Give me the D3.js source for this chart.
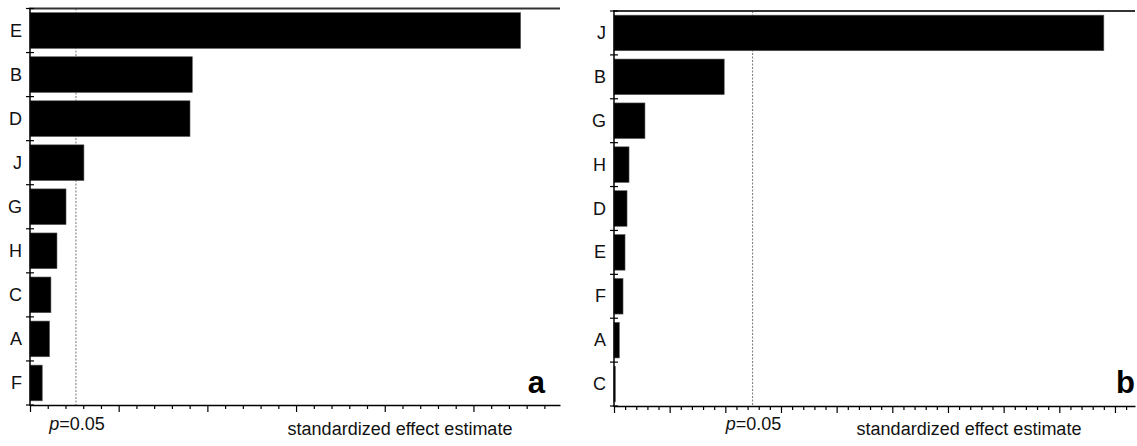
<!DOCTYPE html>
<html><head><meta charset="utf-8">
<script src="https://cdn.jsdelivr.net/npm/d3@7"></script>
<style>body{margin:0;background:#fff}svg{display:block}text{font-family:"Liberation Sans",Arial,sans-serif}</style>
</head><body>
<svg id="c" width="1137" height="446"></svg>
<script>
const catsA = ["E","B","D","J","G","H","C","A","F"];
const valsA = [27.66, 9.15, 9.02, 3.04, 2.03, 1.52, 1.18, 1.10, 0.69];
const pA = 2.59;
const catsB = ["J","B","G","H","D","E","F","A","C"];
const valsB = [44.0, 9.9, 2.78, 1.35, 1.17, 0.99, 0.81, 0.48, 0.12];
const pB = 12.45;
const pLabel = "=0.05";
const xTitle = "standardized effect estimate";

const svg = d3.select("#c");

function panel(cfg){
  const {cats, vals, pval, xMax, left, right, top, bottom, letter, letterX, titleX} = cfg;
  const g = svg.append("g");
  const x = d3.scaleLinear().domain([0, xMax]).range([left, right]);
  const y = d3.scaleBand().domain(cats).range([top, bottom]).paddingInner(0.19).paddingOuter(0.095);
  const step = y.step();
  // dashed p line
  g.append("line").attr("x1", x(pval)).attr("x2", x(pval)).attr("y1", top).attr("y2", bottom)
    .attr("stroke", "#777").attr("stroke-width", 1).attr("stroke-dasharray", "2,1.5");
  // bars
  g.selectAll("rect.bar").data(cats).join("rect")
    .attr("x", x(0)).attr("y", d => y(d))
    .attr("width", (d,i) => x(vals[i]) - x(0)).attr("height", y.bandwidth())
    .attr("fill", "#000").attr("stroke", "#555").attr("stroke-width", 0.6);
  // top line
  g.append("line").attr("x1", left - 1).attr("x2", right).attr("y1", top).attr("y2", top)
    .attr("stroke", "#333").attr("stroke-width", 2);
  // x axis
  const ticks = d3.range(0, Math.floor(xMax) + 1, 1);
  const ax = g.append("g").attr("transform", `translate(0,${bottom})`)
    .call(d3.axisBottom(x).tickValues(ticks).tickFormat("").tickSizeOuter(0));
  ax.select(".domain").attr("stroke", "#000").attr("stroke-width", 1.5);
  ax.selectAll(".tick line").attr("y2", d => d % 5 === 0 ? 7 : 4).attr("stroke-width", 1.2);
  // y axis
  g.append("line").attr("x1", left).attr("x2", left).attr("y1", top).attr("y2", bottom + 1)
    .attr("stroke", "#000").attr("stroke-width", 1.5);
  g.selectAll("line.yt").data(d3.range(cats.length + 1)).join("line").attr("class","yt")
    .attr("x1", left - 4).attr("x2", left + 4)
    .attr("y1", i => top + i * step).attr("y2", i => top + i * step)
    .attr("stroke", "#000").attr("stroke-width", 1.2);
  // category labels
  g.selectAll("text.cat").data(cats).join("text").attr("class","cat")
    .attr("x", left - 8).attr("y", d => y(d) + y.bandwidth() / 2)
    .attr("text-anchor", "end").attr("dominant-baseline", "central")
    .attr("font-size", 18).attr("fill", "#111").text(d => d);
  // p label
  const pt = g.append("text").attr("x", x(pval) + 1).attr("y", 430).attr("text-anchor", "middle")
    .attr("font-size", 18).attr("fill", "#111");
  pt.append("tspan").attr("font-style", "italic").text("p");
  pt.append("tspan").text(pLabel);
  // x title
  g.append("text").attr("x", titleX).attr("y", 435).attr("text-anchor", "middle")
    .attr("font-size", 18).attr("fill", "#111").text(xTitle);
  // panel letter
  g.append("text").attr("x", letterX).attr("y", 393).attr("text-anchor", "end")
    .attr("font-size", 31).attr("font-weight", "bold").attr("fill", "#000").text(letter);
}

panel({cats: catsA, vals: valsA, pval: pA, xMax: 29.88, left: 30, right: 560, top: 8.5, bottom: 405, letter: "a", letterX: 545, titleX: 400});
panel({cats: catsB, vals: valsB, pval: pB, xMax: 46.8, left: 614, right: 1135, top: 11, bottom: 406, letter: "b", letterX: 1135, titleX: 969});
</script>
</body></html>
